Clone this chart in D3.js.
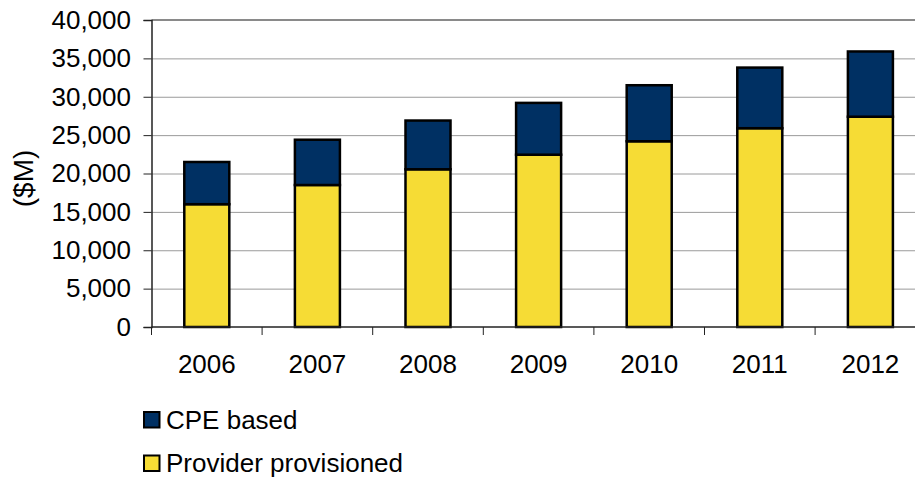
<!DOCTYPE html>
<html>
<head>
<meta charset="utf-8">
<script src="https://cdn.jsdelivr.net/npm/d3@7"></script>
<style>
  body { margin: 0; background: #fff; }
  svg { display: block; font-family: "Liberation Sans", Arial, sans-serif; }
  .axis path, .axis line { stroke: #222; }
  .grid line { stroke: #9a9a9a; }
  .grid path { stroke: none; }
</style>
</head>
<body>
<div id="chart"></div>
<script>
var years = ["2006", "2007", "2008", "2009", "2010", "2011", "2012"];
var provider = [16000, 18500, 20550, 22450, 24200, 25900, 27400];
var cpe = [5500, 5900, 6350, 6750, 7300, 7900, 8500];
var yTicks = [0, 5000, 10000, 15000, 20000, 25000, 30000, 35000, 40000];
var seriesNames = ["CPE based", "Provider provisioned"];

var colors = {"Provider provisioned": "#f6dc35", "CPE based": "#003063"};

var W = 915, H = 479;
var fontSize = 26;
var plotLeft = 151.5, plotTop = 20, plotBottom = 327;
// the plot runs past the right edge of the picture, as in the original
var plotRight = plotLeft + 7 * 110.6;

var svg = d3.select("#chart").append("svg")
    .attr("width", W)
    .attr("height", H);

var x = d3.scaleBand()
    .domain(years)
    .range([plotLeft, plotRight])
    .paddingInner(0.593)
    .paddingOuter(0.2965);

var y = d3.scaleLinear()
    .domain([0, 40000])
    .range([plotBottom, plotTop]);

// grid lines
svg.append("g")
    .attr("class", "grid")
    .attr("transform", "translate(" + plotLeft + ",0)")
    .call(d3.axisLeft(y).tickValues(yTicks.slice(1, -1)).tickSize(-(plotRight - plotLeft)).tickFormat(""));

// top border
svg.append("line")
    .attr("x1", plotLeft).attr("x2", plotRight)
    .attr("y1", y(40000)).attr("y2", y(40000))
    .attr("stroke", "#8a8a8a")
    .attr("stroke-width", 2);

// stacked data
var rows = years.map(function(d, i) {
    return {year: d, "Provider provisioned": provider[i], "CPE based": cpe[i]};
});
var stack = d3.stack().keys(["Provider provisioned", "CPE based"]);
var layers = stack(rows);

svg.append("g").selectAll("g")
    .data(layers)
    .enter()
    .append("g")
    .attr("fill", function(d) { return colors[d.key]; })
    .selectAll("rect")
    .data(function(d) { return d; })
    .enter()
    .append("rect")
    .attr("x", function(d) { return x(d.data.year); })
    .attr("width", x.bandwidth())
    .attr("y", function(d) { return y(d[1]); })
    .attr("height", function(d) { return y(d[0]) - y(d[1]); })
    .attr("stroke", "#000")
    .attr("stroke-width", 2.5);

// y axis
var yAxis = svg.append("g")
    .attr("class", "axis")
    .attr("transform", "translate(" + plotLeft + ",0)")
    .call(d3.axisLeft(y).tickValues(yTicks).tickSize(8).tickPadding(12.5).tickFormat(d3.format(",")));
yAxis.selectAll("text")
    .attr("font-size", fontSize)
    .attr("fill", "#000")
    .attr("font-family", "Liberation Sans, Arial, sans-serif");
yAxis.select("path").attr("stroke-width", 1.5);

// x axis, ticks at category boundaries
var bounds = years.map(function(d) { return x(d) - x.step() * x.paddingInner() / 2; });
var xb = svg.append("g")
    .attr("class", "axis")
    .attr("transform", "translate(0," + plotBottom + ")");
xb.append("line")
    .attr("x1", plotLeft).attr("x2", plotRight)
    .attr("stroke", "#222").attr("stroke-width", 1.5);
xb.selectAll(".tk")
    .data(bounds)
    .enter()
    .append("line")
    .attr("class", "tk")
    .attr("x1", function(d) { return d; })
    .attr("x2", function(d) { return d; })
    .attr("y1", 0).attr("y2", 8)
    .attr("stroke", "#222");
xb.selectAll(".lbl")
    .data(years)
    .enter()
    .append("text")
    .attr("class", "lbl")
    .attr("x", function(d) { return x(d) + x.bandwidth() / 2; })
    .attr("y", 46)
    .attr("text-anchor", "middle")
    .attr("font-size", fontSize)
    .attr("fill", "#000")
    .text(function(d) { return d; });

// y title
svg.append("text")
    .attr("transform", "translate(33," + ((plotTop + plotBottom) / 2 + 5) + ") rotate(-90)")
    .attr("text-anchor", "middle")
    .attr("font-size", 28)
    .attr("fill", "#000")
    .text("($M)");

// legend
var legend = svg.append("g")
    .selectAll("g")
    .data(seriesNames)
    .enter()
    .append("g")
    .attr("transform", function(d, i) { return "translate(144," + (412 + i * 43.5) + ")"; });
legend.append("rect")
    .attr("width", 15.5).attr("height", 15.5)
    .attr("fill", function(d) { return colors[d]; })
    .attr("stroke", "#000")
    .attr("stroke-width", 2);
legend.append("text")
    .attr("x", 22)
    .attr("y", 16.5)
    .attr("font-size", fontSize)
    .attr("fill", "#000")
    .text(function(d) { return d; });
</script>
</body>
</html>
